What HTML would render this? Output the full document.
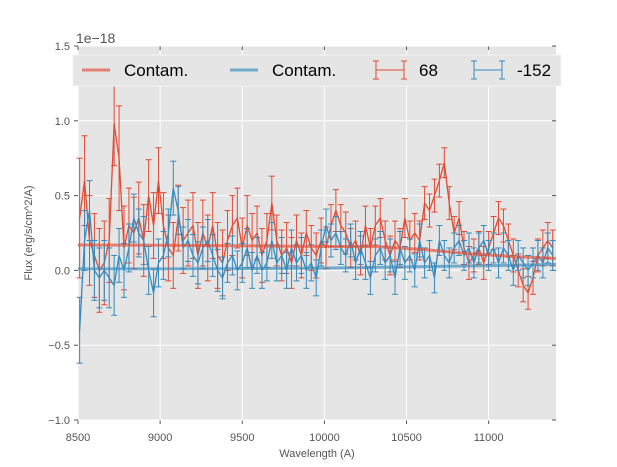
<!DOCTYPE html>
<html><head><meta charset="utf-8"><style>
body{margin:0;background:#fff;}
svg{display:block;font-family:"Liberation Sans","DejaVu Sans",sans-serif;}
</style></head><body>
<svg id="chart" width="617" height="467" viewBox="0 0 617 467"></svg>
<script>
const wlStart = 8510, wlStep = 30;
const red68 = [0.35,0.6,0.2,0.1,0.0,0.05,0.2,0.98,0.75,0.15,0.3,0.25,0.35,0.2,0.5,0.3,0.6,0.3,0.15,0.1,0.35,0.2,0.25,0.3,0.1,0.25,0.15,0.3,0.1,0.05,0.2,0.3,0.35,0.15,0.3,0.2,0.25,0.1,0.2,0.45,0.2,0.1,0.15,0.05,0.2,0.1,0.25,0.15,0.1,0.2,0.15,0.3,0.4,0.3,0.25,0.15,0.2,0.1,0.3,0.15,0.3,0.35,0.2,0.1,0.2,0.15,0.35,0.2,0.25,0.2,0.45,0.4,0.5,0.6,0.72,0.45,0.25,0.35,0.15,0.05,0.1,0.15,0.05,0.15,0.25,0.35,0.3,0.2,0.1,0.0,-0.1,-0.15,-0.05,0.1,0.15,0.2,0.15];
const redErr = [0.4,0.3,0.3,0.28,0.28,0.28,0.28,0.28,0.35,0.28,0.25,0.24,0.24,0.24,0.24,0.22,0.22,0.22,0.22,0.22,0.22,0.22,0.22,0.22,0.22,0.22,0.22,0.22,0.22,0.22,0.2,0.2,0.2,0.2,0.2,0.18,0.18,0.18,0.18,0.18,0.17,0.17,0.17,0.17,0.17,0.15,0.15,0.15,0.15,0.15,0.14,0.14,0.14,0.14,0.14,0.13,0.13,0.13,0.13,0.13,0.13,0.13,0.13,0.13,0.13,0.13,0.13,0.13,0.13,0.13,0.11,0.11,0.11,0.11,0.1,0.11,0.11,0.11,0.11,0.11,0.11,0.11,0.11,0.11,0.11,0.11,0.11,0.11,0.11,0.11,0.11,0.11,0.11,0.11,0.12,0.12,0.12];
const blue152 = [-0.4,0.2,0.4,0.0,-0.05,0.0,-0.05,-0.1,0.1,0.0,0.15,0.35,0.25,0.2,0.0,-0.15,0.05,0.1,0.25,0.55,0.4,0.15,0.2,0.1,0.05,0.15,0.2,0.1,0.0,-0.05,0.05,0.1,0.0,0.05,0.15,0.0,0.1,0.0,0.05,0.2,0.05,0.1,0.0,0.15,0.05,0.1,0.0,0.05,-0.05,0.15,0.3,0.2,0.25,0.15,0.1,0.2,0.05,0.15,0.05,-0.05,0.1,0.15,0.05,0.1,-0.05,0.15,0.05,0.1,0.0,0.2,0.05,0.1,-0.05,0.2,0.1,0.05,0.15,0.2,0.1,0.15,0.05,0.15,0.2,0.1,0.15,0.05,0.15,0.1,0.0,0.1,0.05,0.0,0.05,0.1,0.05,0.15,0.1];
const blueErr = [0.22,0.2,0.2,0.2,0.2,0.2,0.2,0.2,0.18,0.18,0.16,0.16,0.16,0.16,0.16,0.16,0.16,0.16,0.16,0.18,0.16,0.14,0.14,0.14,0.14,0.14,0.14,0.14,0.14,0.14,0.13,0.13,0.13,0.13,0.13,0.12,0.12,0.12,0.12,0.12,0.12,0.12,0.12,0.12,0.12,0.12,0.12,0.12,0.12,0.12,0.11,0.11,0.11,0.11,0.11,0.11,0.11,0.11,0.11,0.11,0.11,0.11,0.11,0.11,0.11,0.11,0.11,0.11,0.11,0.11,0.1,0.1,0.1,0.1,0.1,0.1,0.1,0.1,0.1,0.1,0.1,0.1,0.1,0.1,0.1,0.1,0.1,0.1,0.1,0.1,0.1,0.1,0.1,0.1,0.1,0.1,0.1];
const contamWl = [8500,9000,9500,10000,10300,10600,10900,11200,11410];
const contamRed = [0.17,0.168,0.165,0.16,0.16,0.14,0.11,0.09,0.08];
const contamBlue = [0.01,0.01,0.012,0.015,0.02,0.025,0.03,0.035,0.04];
const xTicks = [8500,9000,9500,10000,10500,11000];
const yTicks = [-1.0,-0.5,0.0,0.5,1.0,1.5];
const yTickLabels = ["\u22121.0","\u22120.5","0.0","0.5","1.0","1.5"];

const L=78,R=556,T=46,B=420, X0=8500,X1=11410, Y0=-1,Y1=1.5;
const xs=v=>L+(v-X0)/(X1-X0)*(R-L);
const ys=v=>B-(v-Y0)/(Y1-Y0)*(B-T);
const NS="http://www.w3.org/2000/svg";
const svg=document.getElementById('chart');
function mk(tag,attrs,parent){const e=document.createElementNS(NS,tag);for(const k in attrs)e.setAttribute(k,attrs[k]);(parent||svg).appendChild(e);return e;}

const bg=mk('rect',{x:L,y:T,width:R-L,height:B-T,fill:'#e5e5e5'});


xTicks.forEach(t=>{
  const g=mk('line',{x1:xs(t),x2:xs(t),y1:T,y2:B,stroke:'#fff','stroke-width':1});
  
  
  mk('line',{x1:xs(t),x2:xs(t),y1:B,y2:B+4,stroke:'#555'});
  mk('line',{x1:xs(t),x2:xs(t),y1:T,y2:T+4,stroke:'#555'});
  const tx=mk('text',{x:xs(t),y:B+21,'text-anchor':'middle','font-size':11,fill:'#555'});
  tx.textContent=t;
  
  
});
yTicks.forEach((t,i)=>{
  const g=mk('line',{x1:L,x2:R,y1:ys(t),y2:ys(t),stroke:'#fff','stroke-width':1});
  
  
  mk('line',{x1:L-4,x2:L,y1:ys(t),y2:ys(t),stroke:'#555'});
  mk('line',{x1:R-4,x2:R,y1:ys(t),y2:ys(t),stroke:'#555'});
  const tx=mk('text',{x:L-8,y:ys(t)+4,'text-anchor':'end','font-size':11,fill:'#555'});
  tx.textContent=yTickLabels[i];
  
  
});

function contam(vals,color,name){
  const p=mk('polyline',{points:contamWl.map((w,i)=>xs(w)+','+ys(vals[i])).join(' '),fill:'none',stroke:color,'stroke-width':3,'stroke-opacity':0.65});
  
  
}
function series(vals,errs,color,name){
  const g=mk('g',{stroke:color,'stroke-width':1,fill:'none'});
  
  
  vals.forEach((v,i)=>{
    const x=xs(wlStart+i*wlStep), y1=ys(v+errs[i]), y2=ys(v-errs[i]);
    mk('line',{x1:x,x2:x,y1:y1,y2:y2},g);
    mk('line',{x1:x-3,x2:x+3,y1:y1,y2:y1},g);
    mk('line',{x1:x-3,x2:x+3,y1:y2,y2:y2},g);
  });
  mk('polyline',{points:vals.map((v,i)=>xs(wlStart+i*wlStep)+','+ys(v)).join(' '),'stroke-width':1.3},g);
}
series(red68,redErr,'#e24a33','series-68');
series(blue152,blueErr,'#348abd','series-neg152');
contam(contamRed,'#e24a33','contam-line-red');
contam(contamBlue,'#348abd','contam-line-blue');

const lg=mk('g',{});


mk('rect',{x:73,y:55,width:488,height:31,fill:'#e5e5e5',stroke:'#f4f4f4'},lg);
const items=[{t:'Contam.',c:'#e24a33',x:82,eb:false},{t:'Contam.',c:'#348abd',x:230,eb:false},{t:'68',c:'#e24a33',x:376,eb:true},{t:'-152',c:'#348abd',x:474,eb:true}];
items.forEach(it=>{
  const e=mk('g',{},lg);
  
  
  if(it.eb){
    mk('line',{x1:it.x,x2:it.x+28,y1:70,y2:70,stroke:it.c},e);
    mk('line',{x1:it.x,x2:it.x,y1:61,y2:79,stroke:it.c},e);
    mk('line',{x1:it.x+28,x2:it.x+28,y1:61,y2:79,stroke:it.c},e);
    mk('line',{x1:it.x-3,x2:it.x+3,y1:61,y2:61,stroke:it.c},e);
    mk('line',{x1:it.x-3,x2:it.x+3,y1:79,y2:79,stroke:it.c},e);
    mk('line',{x1:it.x+25,x2:it.x+31,y1:61,y2:61,stroke:it.c},e);
    mk('line',{x1:it.x+25,x2:it.x+31,y1:79,y2:79,stroke:it.c},e);
  } else {
    mk('line',{x1:it.x,x2:it.x+28,y1:70,y2:70,stroke:it.c,'stroke-width':3,'stroke-opacity':0.65},e);
  }
  const tx=mk('text',{x:it.x+(it.eb?43:42),y:76,'font-size':17,fill:'#000'},e);
  tx.textContent=it.t;
});

const off=mk('text',{x:76,y:43,'font-size':14,fill:'#555'});
off.textContent='1e\u221218';


const xl=mk('text',{x:(L+R)/2,y:457,'text-anchor':'middle','font-size':11,fill:'#555'});
xl.textContent='Wavelength (A)';


const yl=mk('text',{x:0,y:0,'text-anchor':'middle','font-size':11,fill:'#555',transform:'translate(32,233) rotate(-90)'});
yl.textContent='Flux (erg/s/cm^2/A)';


</script>
</body></html>
